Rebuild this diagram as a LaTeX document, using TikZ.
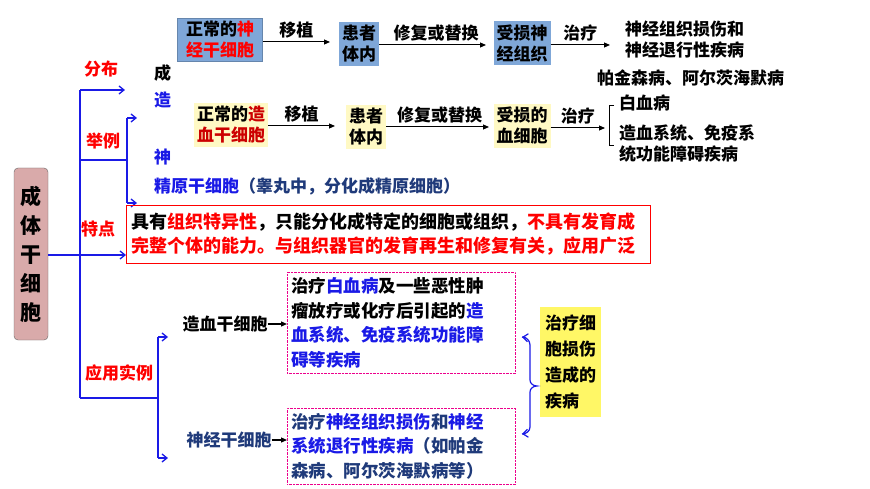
\documentclass[tikz,border=0pt]{standalone}
\usepackage{fontspec}
\setmainfont{Noto Sans CJK SC}
\usetikzlibrary{arrows.meta,decorations.pathreplacing}
\definecolor{dblue}{HTML}{1F3A7A}
\definecolor{bblue}{HTML}{1A1AE6}
\definecolor{boxblue}{HTML}{7FA7D8}
\definecolor{boxyel}{HTML}{FFF9C4}
\definecolor{pinkbox}{HTML}{D9AAAA}
\tikzset{
 every node/.style={font=\bfseries\fontsize{17}{21}\selectfont, inner sep=0pt},
 tx/.style={anchor=north west, align=left},
 bl/.style={draw=bblue, line width=1.3pt},
 ba/.style={bl, -{Straight Barb[length=5pt,width=8pt]}},
 ka/.style={draw=black, line width=1pt, -{Triangle[length=6pt,width=5pt]}},
 fbox/.style={inner sep=3pt, align=center, minimum height=38pt},
 lab/.style={anchor=south},
}
\begin{document}
\begin{tikzpicture}[x=1pt,y=-1pt]
\useasboundingbox (0,0) rectangle (870,489);
% main box
\node[draw=gray!80!black, fill=pinkbox, rounded corners=4pt, minimum width=34pt, minimum height=172pt, align=center, font=\bfseries\fontsize{21}{29}\selectfont] (main) at (31,254) {成\\体\\干\\细\\胞};
% hidden texts
\node[tx] (hc) at (154,64) {成};
\node[tx, text=bblue] (hz) at (154,92) {造};
\node[tx, text=bblue] (hs) at (154,149) {神};
\node[tx, text=bblue] (jy) at (154,177) {精原干细胞\textcolor{dblue}{（睾丸中，分化成精原细胞）}};
% trunk
\coordinate (t0) at (80,90);
\coordinate (t1) at (80,398);
\draw[bl] (t0) -- (t1);
\draw[ba] (t0) -- (125,90);
\node[text=red] (fb) at (101,69) {分布};
\coordinate (j0) at (80,160);
\coordinate (j1) at (127,160);
\draw[bl] (j0) -- (j1);
\draw[bl] (127,118) -- (127,203);
\draw[ba] (127,118) -- (137,118);
\draw[ba] (127,203) -- (137,203);
\node[text=red] (jl) at (103,141) {举例};
\node[text=red] (td) at (98,229) {特点};
% red box
\node[draw=red, line width=1pt, anchor=north west, inner sep=5pt, align=left, text width=514pt, minimum height=58pt, font=\bfseries\fontsize{18}{24}\selectfont] (rb) at (126,205) {具有\textcolor{red}{组织特异性}，只能分化成特定的细胞或组织，\textcolor{red}{不具有发育成}\\\textcolor{red}{完整个体的能力。与组织器官的发育再生和修复有关，应用广泛}};
\draw[ba] (main.east |- 0,255) -- (rb.west |- 0,255);
% row 1
\node[fill=boxblue, fbox, minimum width=85pt, draw=boxblue!80!black, line width=0.3pt] (n1) at (220,40) {正常的\textcolor{red}{神}\\\textcolor{red}{经干细胞}};
\node[fill=boxblue, fbox, minimum height=42pt] (n2) at (359,44) {患者\\体内};
\node[fill=boxblue, fbox, minimum height=42pt] (n3) at (522,43) {受损神\\经组织};
\node[tx] (n4) at (625,21) {神经组织损伤和\\神经退行性疾病};
\draw[ka] (n1.east |- 0,42) -- node[lab, above=3pt] {移植} (330,42);
\draw[line width=1pt] (n2.east |- 0,45) -- (386,45);
\draw[ka] (386,45) -- node[lab, above=3pt] {修复或替换} (486,45);
\draw[ka] (n3.east |- 0,45) -- node[lab, above=3pt] {治疗} (610,45);
\node[tx] (pk) at (597,70) {帕金森病、阿尔茨海默病};
% row 2
\node[fill=boxyel, fbox, minimum height=44pt] (m1) at (231,125) {正常的\textcolor{red!80!black}{造}\\\textcolor{red!80!black}{血干细胞}};
\node[fill=boxyel, fbox, minimum height=44pt] (m2) at (366,127) {患者\\体内};
\node[fill=boxyel, fbox, minimum height=44pt] (m3) at (522,126) {受损的\\血细胞};
\draw[ka] (m1.east |- 0,126) -- node[lab, above=3pt] {移植} (335,126);
\draw[line width=1pt] (m2.east |- 0,127) -- (390,127);
\draw[ka] (390,127) -- node[lab, above=3pt] {修复或替换} (489,127);
\draw[ka] (m3.east |- 0,128) -- node[lab, above=3pt] {治疗} (605,128);
\draw[line width=1pt] (614,106) -- (609,106) -- (609,146) -- (614,146);
\node[tx] (by) at (619,95) {白血病};
\node[tx] (zx) at (619,125) {造血系统、免疫系\\统功能障碍疾病};
% bottom section
\draw[bl] (t1) -- (158,398);
\draw[bl] (158,337) -- (158,458);
\draw[ba] (158,337) -- (168,337);
\draw[ba] (158,458) -- (168,458);
\node[text=red] (yy) at (119,373) {应用实例};
\node[draw=magenta, densely dotted, anchor=north west, inner sep=4pt, align=left, text width=220pt, minimum height=101pt, font=\bfseries\fontsize{17.5}{24.5}\selectfont] (b1) at (287,272) {治疗\textcolor{bblue}{白血病}及一些恶性肿\\瘤放疗或化疗后引起的\textcolor{bblue}{造}\\\textcolor{bblue}{血系统、免疫系统功能障}\\\textcolor{bblue}{碍等疾病}};
\node[draw=magenta, densely dotted, anchor=north west, inner sep=4pt, align=left, text width=220pt, minimum height=76pt, font=\bfseries\fontsize{17.5}{24.5}\selectfont, text=dblue] (b2) at (287,408) {治疗\textcolor{bblue}{神经组织损伤}和\textcolor{bblue}{神经}\\\textcolor{bblue}{系统退行性疾病}（如帕金\\森病、阿尔茨海默病等）};
\node (zc) at (225,324) {造血干细胞};
\node[text=dblue] (sc) at (229,440) {神经干细胞};
\draw[ka, line width=1.2pt] (zc.east) -- (b1.west |- zc.east);
\draw[ka, line width=1.2pt] (sc.east) -- (b2.west |- sc.east);
\node[fill=yellow!60, anchor=north west, inner sep=5pt, align=left, minimum width=50pt, minimum height=110pt, font=\bfseries\fontsize{17}{26}\selectfont] (yb) at (540,307) {治疗细\\胞损伤\\造成的\\疾病};
\draw[bl, line width=1.2pt] (522,337) to[out=0,in=90] (530,345) -- (530,380) to[out=-90,in=180] (537,386) to[out=180,in=90] (530,392) -- (530,427) to[out=-90,in=0] (522,434);
\draw[ba, line width=1.2pt] (526,337.5) -- (522,337);
\draw[ba, line width=1.2pt] (526,433.5) -- (522,434);
\end{tikzpicture}
\end{document}
